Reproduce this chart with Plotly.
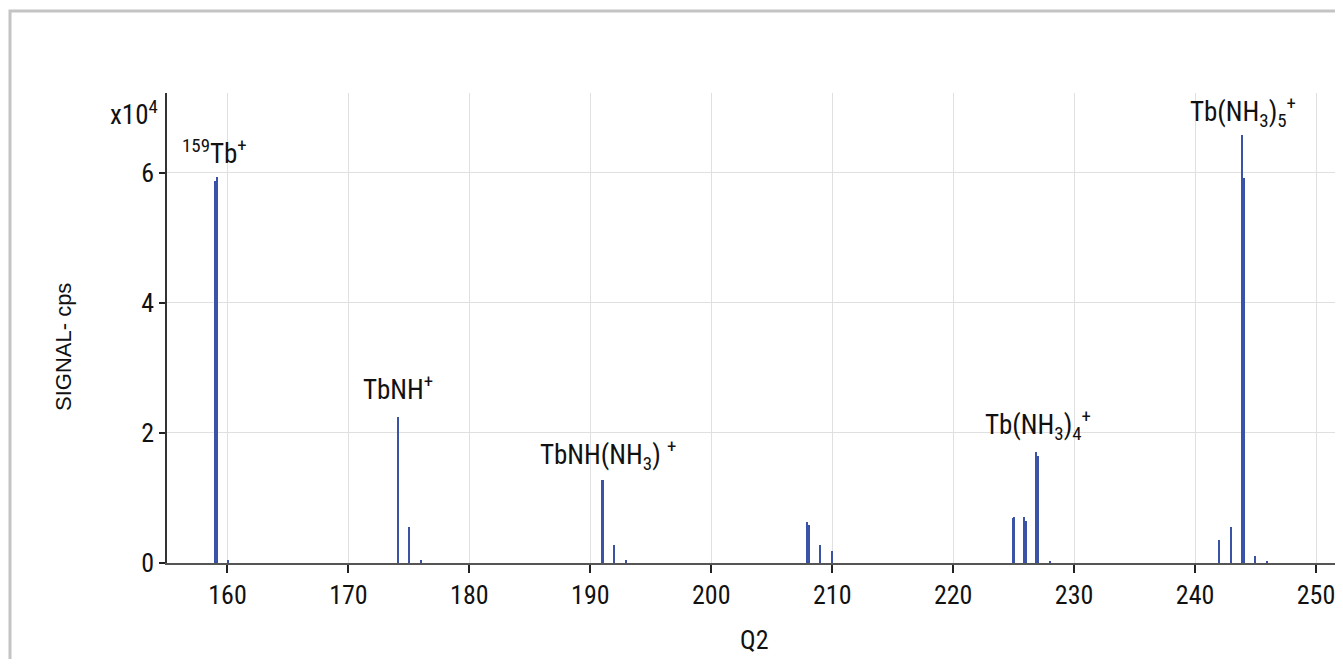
import plotly.graph_objects as go

# m/z positions of each spectral line (Q2) and its signal (cps)
mz = [159.0, 159.13, 160.05,
      174.1, 175.0, 176.0,
      190.97, 191.06, 192.0, 193.0,
      207.92, 208.08, 209.0, 210.0,
      224.93, 225.05, 225.88, 226.02, 226.88, 227.05, 228.0,
      242.0, 243.0, 243.9, 244.08, 245.0, 246.0]
cps = [58700, 59400, 500,
       22400, 5600, 500,
       12800, 12800, 2700, 500,
       6300, 5900, 2700, 1900,
       7000, 7100, 7100, 6500, 17100, 16400, 300,
       3600, 5500, 65800, 59200, 1100, 300]

# peak labels
label_text = ["<sup>159</sup>Tb<sup>+</sup>", "TbNH<sup>+</sup>",
              "TbNH(NH<sub>3</sub>) <sup>+</sup>",
              "Tb(NH<sub>3</sub>)<sub>4</sub><sup>+</sup>",
              "Tb(NH<sub>3</sub>)<sub>5</sub><sup>+</sup>"]
label_x = [158.9, 174.1, 191.5, 227.0, 244.0]
label_y = [63200, 26900, 16600, 21200, 69400]

x_ticks = [160, 170, 180, 190, 200, 210, 220, 230, 240, 250]
y_tickvals = [0, 20000, 40000, 60000]
y_ticktext = ["0", "2", "4", "6"]

NARROW = "Liberation Sans Narrow, Roboto Condensed, Arial Narrow, Roboto, sans-serif"
BLUE = "#3A53A6"

# plot area geometry (page pixels); the page body adds an 8px offset
PL, PT, PW, PH = 167, 93, 1172, 470
OFF = 8


def px(x):
    return (x - PL) / PW


def py(y):
    return (PT + PH - y) / PH


fig = go.Figure()
fig.add_trace(go.Bar(x=mz, y=cps, width=0.12,
                     marker=dict(color=BLUE, line=dict(width=0)),
                     showlegend=False, hoverinfo="x+y"))

annotations = []
for t, x, y in zip(label_text, label_x, label_y):
    annotations.append(dict(x=x, y=y, xref="x", yref="y", text=t, showarrow=False,
                            xanchor="center", yanchor="middle",
                            font=dict(family=NARROW, size=27, color="#111")))
annotations.append(dict(x=px(160), y=py(113), xref="paper", yref="paper", text="x10<sup>4</sup>",
                        showarrow=False, xanchor="right", yanchor="middle",
                        font=dict(family=NARROW, size=27, color="#111")))
annotations.append(dict(x=px(63), y=py(347), xref="paper", yref="paper",
                        text="SIGNAL- cps", textangle=-90, showarrow=False,
                        xanchor="center", yanchor="middle",
                        font=dict(family="Liberation Sans, Arial, sans-serif", size=22, color="#111")))
annotations.append(dict(x=px(754), y=py(640), xref="paper", yref="paper",
                        text="Q2", showarrow=False, xanchor="center", yanchor="middle",
                        font=dict(family=NARROW, size=26, color="#111")))

W, H = 1343 - OFF, 667 - 2 * OFF
fig.update_layout(
    width=W, height=H,
    margin=dict(l=PL - OFF, r=W - (PL - OFF + PW), t=PT - OFF, b=H - (PT - OFF + PH), pad=0),
    paper_bgcolor="white", plot_bgcolor="white",
    bargap=0,
    annotations=annotations,
    shapes=[dict(type="rect", xref="paper", yref="paper",
                 x0=px(10), x1=px(1400), y0=py(720), y1=py(11),
                 line=dict(color="#c4c4c4", width=3), fillcolor="rgba(0,0,0,0)", layer="below")],
    xaxis=dict(range=[155.0, 251.9], tickvals=x_ticks, ticks="outside", ticklen=8,
               tickcolor="#222", tickwidth=1.5,
               showline=True, linecolor="#555", linewidth=2,
               showgrid=True, gridcolor="#e0e0e0", gridwidth=1, zeroline=False,
               tickfont=dict(family=NARROW, size=26, color="#111")),
    yaxis=dict(range=[0, 72300], tickvals=y_tickvals, ticktext=y_ticktext,
               ticks="outside", ticklen=6, tickcolor="#222", tickwidth=1.5,
               showline=True, linecolor="#333", linewidth=1.5,
               showgrid=True, gridcolor="#e0e0e0", gridwidth=1, zeroline=False,
               tickfont=dict(family=NARROW, size=26, color="#111")),
)

fig.write_html("out.html")
